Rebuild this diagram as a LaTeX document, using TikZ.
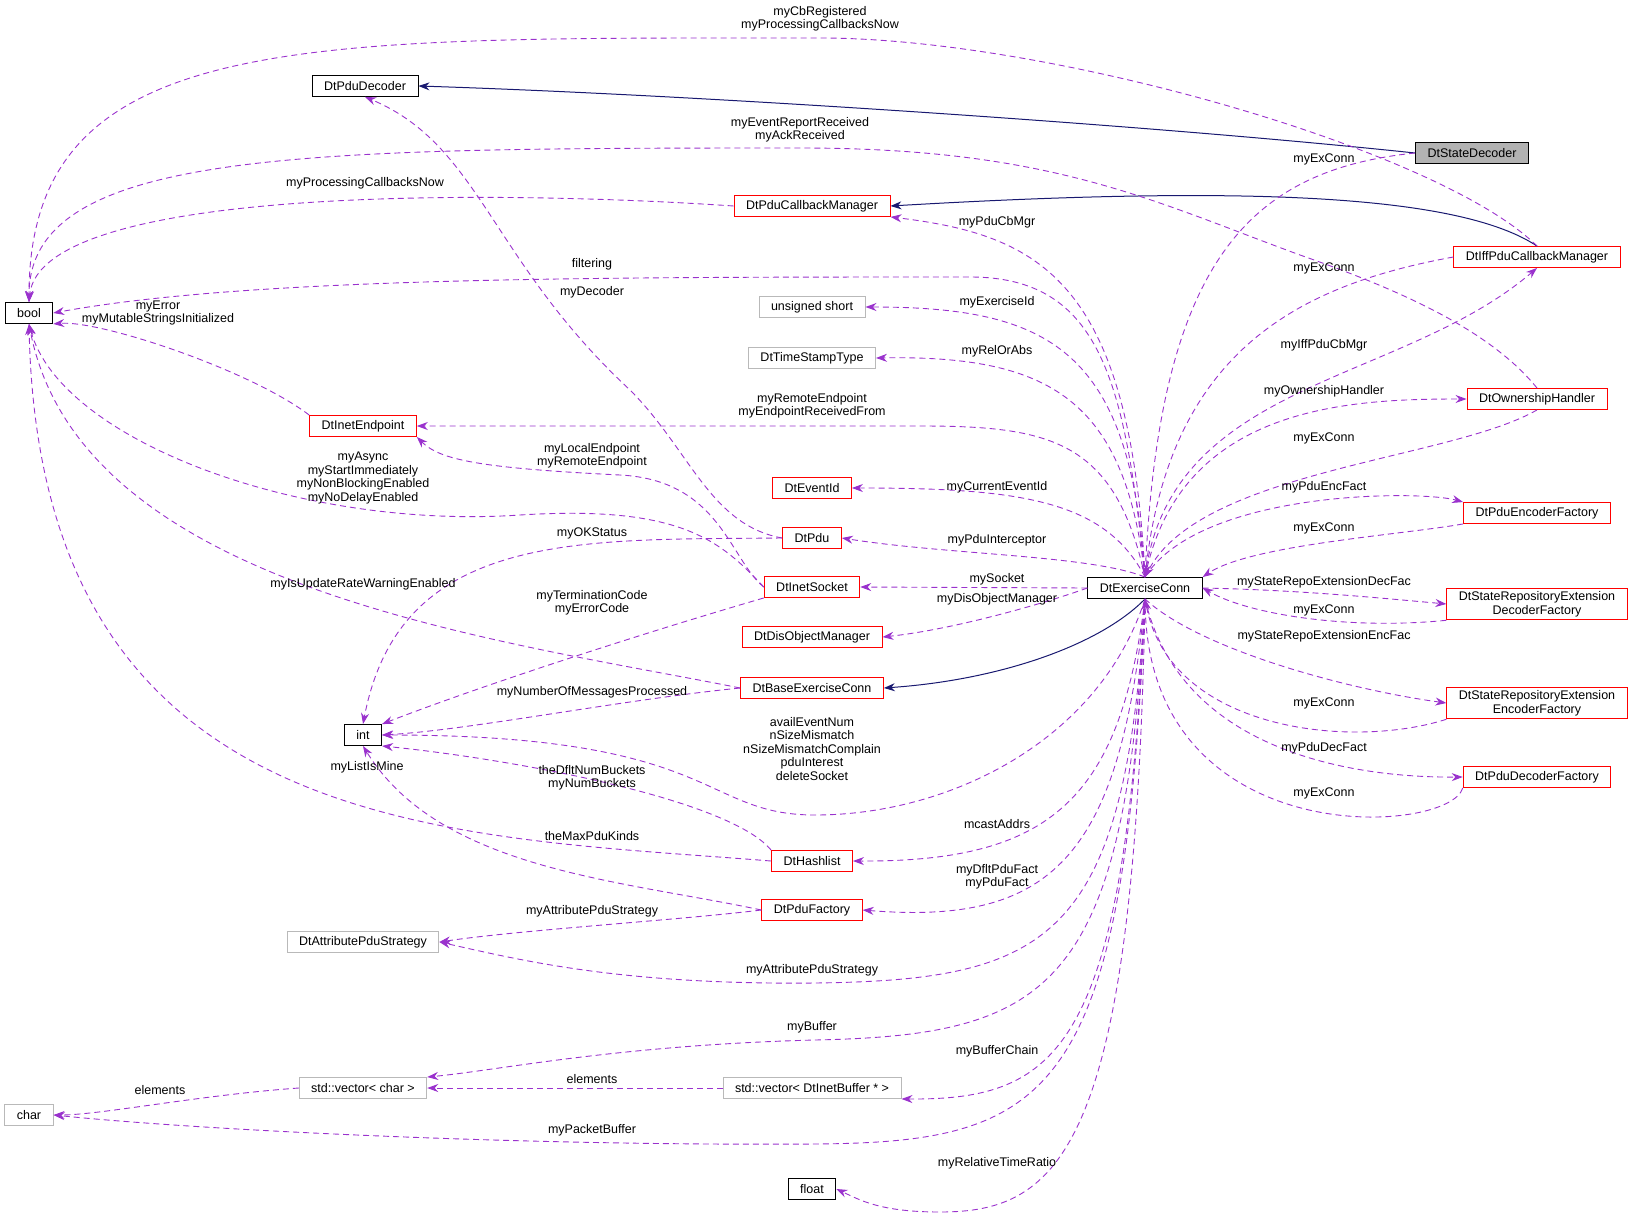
\documentclass[tikz,border=0pt]{standalone}
\usepackage{fontspec}
\setmainfont{Liberation Sans}
\usetikzlibrary{arrows.meta}
\definecolor{dep}{RGB}{154,50,205}
\definecolor{inh}{RGB}{25,25,112}
\tikzset{
  cls/.style={draw, line width=0.9pt, rectangle, inner ysep=3pt, inner xsep=12pt, minimum height=21pt, font=\fontsize{12.5}{14}\selectfont, align=center},
  redcls/.style={cls, draw=red},
  graycls/.style={cls, draw=gray!55},
  lbl/.style={font=\fontsize{12.5}{13.5}\selectfont, align=center, inner sep=0pt},
  uses/.style={dep, dashed, line width=0.9pt, dash pattern=on 6pt off 4pt, -{Stealth[length=11pt,width=8pt]}},
  isa/.style={inh, line width=1pt, -{Stealth[length=11pt,width=8pt]}}
}
\begin{document}
\begin{tikzpicture}[x=1pt,y=-1pt]
\useasboundingbox (0,0) rectangle (1637,1217);
% Classes
\node[cls, fill=gray!60] (sd) at (1472,153) {DtStateDecoder};
\node[cls] (pd) at (365,86) {DtPduDecoder};
\node[cls] (bool) at (29,313) {bool};
\node[redcls] (pcm) at (812,206) {DtPduCallbackManager};
\node[redcls] (iff) at (1537,257) {DtIffPduCallbackManager};
\node[graycls] (us) at (812,307) {unsigned short};
\node[graycls] (ts) at (812,358) {DtTimeStampType};
\node[redcls] (ie) at (363,426) {DtInetEndpoint};
\node[redcls] (oh) at (1537,399) {DtOwnershipHandler};
\node[redcls] (ei) at (812,488) {DtEventId};
\node[redcls] (pdu) at (812,538) {DtPdu};
\node[redcls] (pef) at (1537,513) {DtPduEncoderFactory};
\node[redcls] (is) at (812,587) {DtInetSocket};
\node[cls] (ec) at (1145,588) {DtExerciseConn};
\node[redcls] (sdf) at (1537,604) {DtStateRepositoryExtension\\DecoderFactory};
\node[redcls] (dom) at (812,637) {DtDisObjectManager};
\node[redcls] (be) at (812,688) {DtBaseExerciseConn};
\node[redcls] (sef) at (1537,703) {DtStateRepositoryExtension\\EncoderFactory};
\node[cls] (int) at (363,735) {int};
\node[redcls] (pdf) at (1537,777) {DtPduDecoderFactory};
\node[redcls] (hl) at (812,861) {DtHashlist};
\node[redcls] (pf) at (812,910) {DtPduFactory};
\node[graycls] (ap) at (363,942) {DtAttributePduStrategy};
\node[graycls] (vc) at (363,1088) {std::vector< char >};
\node[graycls] (vb) at (812,1088) {std::vector< DtInetBuffer * >};
\node[graycls] (ch) at (29,1115) {char};
\node[cls] (fl) at (812,1189) {float};

% Inheritance
\draw[isa] (sd.west) .. controls (1150,125) and (700,95) .. (pd.east);
\draw[isa] (iff.north) .. controls (1460,195) and (1250,185) .. (pcm.east);
\draw[isa] (ec.south) .. controls (1100,645) and (1000,680) .. (be.east);

% Uses: towards bool
\draw[uses] (iff.north) .. controls (1440,150) and (1050,38) .. (820,38) .. controls (300,38) and (29,30) .. (bool.north);
\draw[uses] (oh.north) .. controls (1490,330) and (1400,290) .. (1300,255) .. controls (1150,200) and (1050,148) .. (800,148) .. controls (300,148) and (29,150) .. (bool.north);
\draw[uses] (pcm.west) .. controls (500,190) and (40,185) .. (bool.north);
\draw[uses] (ec.north) .. controls (1125,380) and (1100,277) .. (970,277) .. controls (600,277) and (250,277) .. (bool.east);
\draw[uses] (ie.north west) .. controls (250,370) and (100,320) .. (bool.south east);
\draw[uses] (is.west) .. controls (720,540) and (680,505) .. (520,515) .. controls (300,530) and (60,440) .. (bool.south);
\draw[uses] (be.west) .. controls (500,640) and (80,590) .. (bool.south);
\draw[uses] (hl.west) .. controls (450,835) and (40,840) .. (bool.south);
% Uses: left column
\draw[uses] (pdu.west) .. controls (710,525) and (690,450) .. (630,390) .. controls (490,260) and (480,145) .. (pd.south);
\draw[uses] (is.west) .. controls (730,560) and (720,480) .. (620,475) .. controls (480,468) and (440,460) .. (ie.south east);
\draw[uses] (pdu.west) .. controls (580,540) and (400,530) .. (int.north);
\draw[uses] (is.south west) .. controls (620,640) and (470,690) .. (int.north east);
\draw[uses] (be.west) .. controls (620,700) and (470,730) .. (int.east);
\draw[uses] (hl.north west) .. controls (730,800) and (520,760) .. (int.south east);
\draw[uses] (pf.west) .. controls (620,880) and (440,870) .. (int.south);
\draw[uses] (pf.west) .. controls (680,920) and (520,930) .. (ap.east);
\draw[uses] (vb.west) -- (vc.east);
\draw[uses] (vc.west) .. controls (200,1095) and (100,1115) .. (ch.east);
% Uses: from DtExerciseConn to the left
\draw[uses] (ec.north) .. controls (1130,280) and (1040,235) .. (pcm.south east);
\draw[uses] (ec.north) .. controls (1130,350) and (1050,307) .. (us.east);
\draw[uses] (ec.north) .. controls (1125,400) and (1050,355) .. (ts.east);
\draw[uses] (ec.north) .. controls (1115,440) and (1050,426) .. (920,426) -- (ie.east);
\draw[uses] (ec.north) .. controls (1105,500) and (1020,488) .. (ei.east);
\draw[uses] (ec.north) .. controls (1090,555) and (950,555) .. (pdu.east);
\draw[uses] (ec.west) -- (is.east);
\draw[uses] (ec.west) .. controls (1040,605) and (950,630) .. (dom.east);
\draw[uses] (ec.south) .. controls (1100,740) and (950,815) .. (815,815) .. controls (700,815) and (720,735) .. (int.east);
\draw[uses] (ec.south) .. controls (1120,800) and (1050,862) .. (hl.east);
\draw[uses] (ec.south) .. controls (1120,860) and (1050,925) .. (pf.east);
\draw[uses] (ec.south) .. controls (1125,940) and (1050,980) .. (815,983) .. controls (620,985) and (520,960) .. (ap.east);
\draw[uses] (ec.south) .. controls (1125,990) and (1050,1035) .. (815,1040) .. controls (620,1045) and (500,1070) .. (vc.north east);
\draw[uses] (ec.south) .. controls (1125,1050) and (1060,1100) .. (vb.south east);
\draw[uses] (ec.south) .. controls (1125,1100) and (1050,1142) .. (815,1144) .. controls (520,1146) and (200,1130) .. (ch.east);
\draw[uses] (ec.south) .. controls (1135,1150) and (1060,1212) .. (940,1212) .. controls (880,1212) and (860,1200) .. (fl.east);
% Uses: right column
\draw[uses] (sd.west) .. controls (1250,170) and (1160,260) .. (ec.north);
\draw[uses] (iff.west) .. controls (1300,285) and (1170,350) .. (ec.north);
\draw[uses] (ec.north) .. controls (1170,380) and (1400,385) .. (iff.south);
\draw[uses] (ec.north) .. controls (1180,405) and (1350,399) .. (oh.west);
\draw[uses] (oh.south) .. controls (1450,460) and (1200,470) .. (ec.north);
\draw[uses] (ec.north) .. controls (1200,490) and (1420,490) .. (pef.north west);
\draw[uses] (pef.south west) .. controls (1400,535) and (1250,545) .. (ec.north east);
\draw[uses] (ec.east) .. controls (1300,590) and (1380,598) .. (sdf.west);
\draw[uses] (sdf.south west) .. controls (1350,630) and (1250,615) .. (ec.east);
\draw[uses] (ec.south) .. controls (1200,650) and (1350,690) .. (sef.west);
\draw[uses] (sef.south west) .. controls (1350,750) and (1170,730) .. (ec.south);
\draw[uses] (ec.south) .. controls (1180,750) and (1350,778) .. (pdf.west);
\draw[uses] (pdf.south west) .. controls (1450,835) and (1150,855) .. (ec.south);

% Labels
\node[lbl] (l1) at (820,19) {myCbRegistered\\myProcessingCallbacksNow};
\node[lbl] (l2) at (800,130) {myEventReportReceived\\myAckReceived};
\node[lbl] (l3) at (365,183) {myProcessingCallbacksNow};
\node[lbl] (l4) at (592,264) {filtering};
\node[lbl] (l5) at (592,292) {myDecoder};
\node[lbl] (l6) at (158,313) {myError\\myMutableStringsInitialized};
\node[lbl] (l7) at (997,222) {myPduCbMgr};
\node[lbl] (l8) at (997,302) {myExerciseId};
\node[lbl] (l9) at (997,351) {myRelOrAbs};
\node[lbl] (l10) at (812,406) {myRemoteEndpoint\\myEndpointReceivedFrom};
\node[lbl] (l11) at (592,456) {myLocalEndpoint\\myRemoteEndpoint};
\node[lbl] (l12) at (363,478) {myAsync\\myStartImmediately\\myNonBlockingEnabled\\myNoDelayEnabled};
\node[lbl] (l13) at (997,487) {myCurrentEventId};
\node[lbl] (l14) at (997,540) {myPduInterceptor};
\node[lbl] (l15) at (592,533) {myOKStatus};
\node[lbl] (l16) at (997,579) {mySocket};
\node[lbl] (l17) at (997,599) {myDisObjectManager};
\node[lbl] (l18) at (363,584) {myIsUpdateRateWarningEnabled};
\node[lbl] (l19) at (592,603) {myTerminationCode\\myErrorCode};
\node[lbl] (l20) at (592,692) {myNumberOfMessagesProcessed};
\node[lbl] (l21) at (812,749) {availEventNum\\nSizeMismatch\\nSizeMismatchComplain\\pduInterest\\deleteSocket};
\node[lbl] (l22) at (592,778) {theDfltNumBuckets\\myNumBuckets};
\node[lbl] (l23) at (367,767) {myListIsMine};
\node[lbl] (l24) at (592,836) {theMaxPduKinds};
\node[lbl] (l25) at (997,824) {mcastAddrs};
\node[lbl] (l26) at (997,877) {myDfltPduFact\\myPduFact};
\node[lbl] (l27) at (592,911) {myAttributePduStrategy};
\node[lbl] (l28) at (812,970) {myAttributePduStrategy};
\node[lbl] (l29) at (812,1027) {myBuffer};
\node[lbl] (l30) at (997,1051) {myBufferChain};
\node[lbl] (l31) at (592,1079) {elements};
\node[lbl] (l32) at (160,1090) {elements};
\node[lbl] (l33) at (592,1130) {myPacketBuffer};
\node[lbl] (l34) at (997,1163) {myRelativeTimeRatio};
\node[lbl] (r1) at (1324,159) {myExConn};
\node[lbl] (r2) at (1324,268) {myExConn};
\node[lbl] (r3) at (1324,345) {myIffPduCbMgr};
\node[lbl] (r4) at (1324,391) {myOwnershipHandler};
\node[lbl] (r5) at (1324,438) {myExConn};
\node[lbl] (r6) at (1324,487) {myPduEncFact};
\node[lbl] (r7) at (1324,528) {myExConn};
\node[lbl] (r8) at (1324,582) {myStateRepoExtensionDecFac};
\node[lbl] (r9) at (1324,610) {myExConn};
\node[lbl] (r10) at (1324,636) {myStateRepoExtensionEncFac};
\node[lbl] (r11) at (1324,703) {myExConn};
\node[lbl] (r12) at (1324,748) {myPduDecFact};
\node[lbl] (r13) at (1324,793) {myExConn};
\end{tikzpicture}
\end{document}
